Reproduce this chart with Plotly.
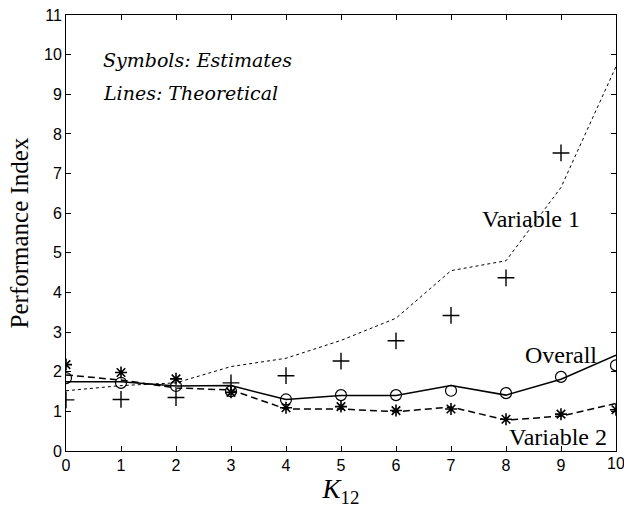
import plotly.graph_objects as go

k12 = [0, 1, 2, 3, 4, 5, 6, 7, 8, 9, 10]

var1_theory = [1.52, 1.65, 1.72, 2.13, 2.34, 2.79, 3.35, 4.55, 4.80, 6.65, 9.70]
var1_est_x = [0, 1, 2, 3, 4, 5, 6, 7, 8, 9]
var1_est = [1.29, 1.30, 1.35, 1.72, 1.90, 2.27, 2.78, 3.42, 4.37, 7.52]

overall_theory = [1.75, 1.75, 1.64, 1.65, 1.30, 1.40, 1.40, 1.65, 1.41, 1.81, 2.42]
overall_est = [1.84, 1.72, 1.64, 1.51, 1.30, 1.41, 1.41, 1.52, 1.46, 1.87, 2.16]

var2_theory = [1.92, 1.79, 1.59, 1.54, 1.06, 1.06, 0.99, 1.11, 0.78, 0.88, 1.20]
var2_est = [2.18, 1.98, 1.82, 1.48, 1.09, 1.12, 1.02, 1.06, 0.80, 0.93, 1.04]

x_ticks = list(range(0, 11))
y_ticks = list(range(0, 12))

fig = go.Figure()

fig.add_trace(go.Scatter(x=k12, y=var1_theory, mode="lines",
                         line=dict(color="black", width=1, dash="dot")))
fig.add_trace(go.Scatter(x=k12, y=overall_theory, mode="lines",
                         line=dict(color="black", width=1.5)))
fig.add_trace(go.Scatter(x=k12, y=var2_theory, mode="lines",
                         line=dict(color="black", width=1.5, dash="7px,4px")))
fig.add_trace(go.Scatter(x=var1_est_x, y=var1_est, mode="markers",
                         marker=dict(symbol="cross-thin-open", size=12, color="black",
                                     line=dict(color="black", width=1.4))))
fig.add_trace(go.Scatter(x=k12, y=overall_est, mode="markers",
                         marker=dict(symbol="circle-open", size=11, color="black",
                                     line=dict(color="black", width=1.2))))
fig.add_trace(go.Scatter(x=k12, y=var2_est, mode="markers",
                         marker=dict(symbol="asterisk-open", size=10, color="black",
                                     line=dict(color="black", width=1.6))))

serif = "Liberation Serif, Times New Roman, serif"
sans = "Liberation Sans, Arial, sans-serif"
tick_font = dict(family=sans, size=16, color="black")

axis_common = dict(showgrid=False, zeroline=False, showline=True, linecolor="black",
                   linewidth=1, mirror="allticks", ticks="inside", ticklen=5,
                   tickcolor="black", tickwidth=1, automargin=False,
                   tickfont=tick_font)

fig.update_layout(
    width=624, height=513,
    margin=dict(l=66, r=8, t=15, b=62),
    paper_bgcolor="white", plot_bgcolor="white",
    showlegend=False,
    xaxis=dict(range=[0, 10], tickvals=x_ticks, ticktext=[str(v) for v in x_ticks],
               title=dict(text="<i>K</i><sub>12</sub>", font=dict(family=serif, size=27, color="black"),
                          standoff=2),
               **axis_common),
    yaxis=dict(range=[0, 11], tickvals=y_ticks, ticktext=[str(v) for v in y_ticks],
               title=dict(text="Performance Index", font=dict(family=serif, size=25, color="black"),
                          standoff=8),
               **axis_common),
)

ann_font = dict(family=serif, size=24, color="black")
it_font = dict(family="DejaVu Serif", size=19, color="black", style="italic")
fig.add_annotation(x=0.64, y=9.87, xref="x", yref="y", text="Symbols: Estimates",
                   showarrow=False, xanchor="left", yanchor="middle", font=it_font)
fig.add_annotation(x=0.64, y=9.04, xref="x", yref="y", text="Lines: Theoretical",
                   showarrow=False, xanchor="left", yanchor="middle", font=it_font)
fig.add_annotation(x=8.46, y=5.86, xref="x", yref="y", text="Variable 1",
                   showarrow=False, xanchor="center", yanchor="middle", font=ann_font)
fig.add_annotation(x=9.0, y=2.42, xref="x", yref="y", text="Overall",
                   showarrow=False, xanchor="center", yanchor="middle", font=ann_font)
fig.add_annotation(x=8.94, y=0.35, xref="x", yref="y", text="Variable 2",
                   showarrow=False, xanchor="center", yanchor="middle", font=ann_font)
# last x tick label (hidden by plotly because it overflows the page edge)
fig.add_annotation(x=x_ticks[-1], y=0, xref="x", yref="y", text=str(x_ticks[-1]),
                   showarrow=False, xanchor="center", yanchor="top", yshift=-2,
                   font=tick_font)

fig.write_html("out.html", config={"displayModeBar": False})

with open("out.html", "r", encoding="utf-8") as f:
    html = f.read()
html = html.replace("<head>", "<head><style>html,body{margin:0;padding:0;overflow:hidden;}</style>", 1)
with open("out.html", "w", encoding="utf-8") as f:
    f.write(html)
